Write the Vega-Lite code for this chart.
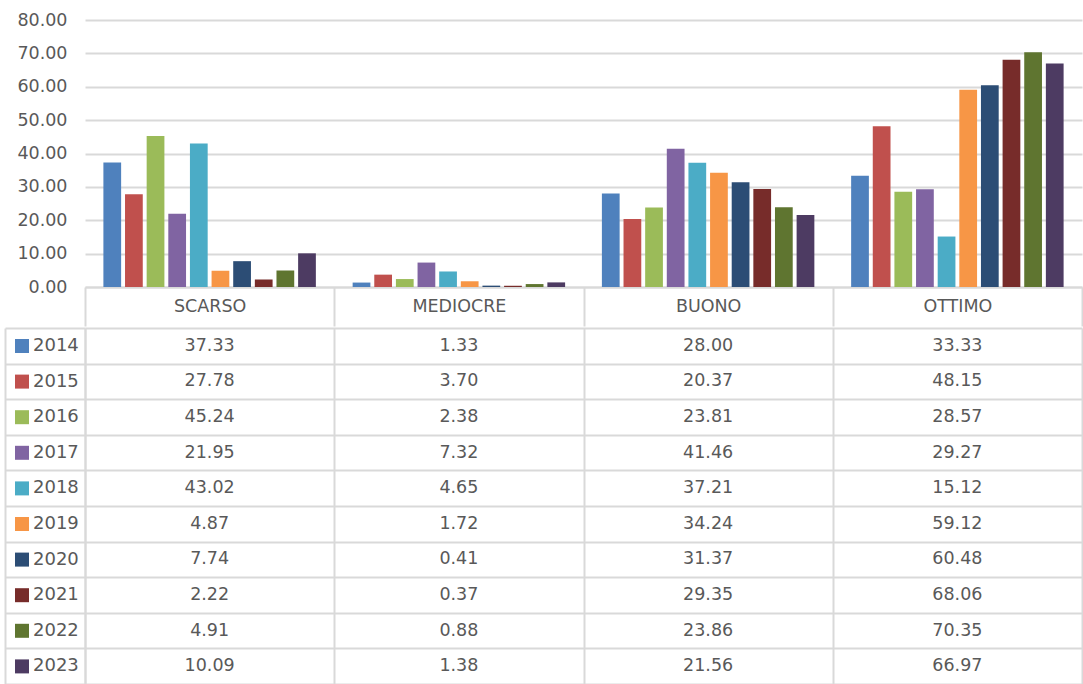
{
  "$schema": "https://vega.github.io/schema/vega-lite/v6.json",
  "padding": {"left": 4, "top": 11, "right": 0, "bottom": 0},
  "background": "white",
  "config": {
    "view": {"stroke": null},
    "font": "DejaVu Sans",
    "axis": {"labelFont": "DejaVu Sans", "labelFontSize": 17.5, "labelColor": "#595959", "gridColor": "#d9d9d9", "gridWidth": 2, "domainColor": "#d9d9d9", "domainWidth": 2, "tickColor": "#d9d9d9", "tickWidth": 2, "title": null},
    "concat": {"spacing": 0}
  },
  "data": {"values": [
    {"cat": "SCARSO", "year": "2014", "value": 37.33},
    {"cat": "SCARSO", "year": "2015", "value": 27.78},
    {"cat": "SCARSO", "year": "2016", "value": 45.24},
    {"cat": "SCARSO", "year": "2017", "value": 21.95},
    {"cat": "SCARSO", "year": "2018", "value": 43.02},
    {"cat": "SCARSO", "year": "2019", "value": 4.87},
    {"cat": "SCARSO", "year": "2020", "value": 7.74},
    {"cat": "SCARSO", "year": "2021", "value": 2.22},
    {"cat": "SCARSO", "year": "2022", "value": 4.91},
    {"cat": "SCARSO", "year": "2023", "value": 10.09},
    {"cat": "MEDIOCRE", "year": "2014", "value": 1.33},
    {"cat": "MEDIOCRE", "year": "2015", "value": 3.70},
    {"cat": "MEDIOCRE", "year": "2016", "value": 2.38},
    {"cat": "MEDIOCRE", "year": "2017", "value": 7.32},
    {"cat": "MEDIOCRE", "year": "2018", "value": 4.65},
    {"cat": "MEDIOCRE", "year": "2019", "value": 1.72},
    {"cat": "MEDIOCRE", "year": "2020", "value": 0.41},
    {"cat": "MEDIOCRE", "year": "2021", "value": 0.37},
    {"cat": "MEDIOCRE", "year": "2022", "value": 0.88},
    {"cat": "MEDIOCRE", "year": "2023", "value": 1.38},
    {"cat": "BUONO", "year": "2014", "value": 28.00},
    {"cat": "BUONO", "year": "2015", "value": 20.37},
    {"cat": "BUONO", "year": "2016", "value": 23.81},
    {"cat": "BUONO", "year": "2017", "value": 41.46},
    {"cat": "BUONO", "year": "2018", "value": 37.21},
    {"cat": "BUONO", "year": "2019", "value": 34.24},
    {"cat": "BUONO", "year": "2020", "value": 31.37},
    {"cat": "BUONO", "year": "2021", "value": 29.35},
    {"cat": "BUONO", "year": "2022", "value": 23.86},
    {"cat": "BUONO", "year": "2023", "value": 21.56},
    {"cat": "OTTIMO", "year": "2014", "value": 33.33},
    {"cat": "OTTIMO", "year": "2015", "value": 48.15},
    {"cat": "OTTIMO", "year": "2016", "value": 28.57},
    {"cat": "OTTIMO", "year": "2017", "value": 29.27},
    {"cat": "OTTIMO", "year": "2018", "value": 15.12},
    {"cat": "OTTIMO", "year": "2019", "value": 59.12},
    {"cat": "OTTIMO", "year": "2020", "value": 60.48},
    {"cat": "OTTIMO", "year": "2021", "value": 68.06},
    {"cat": "OTTIMO", "year": "2022", "value": 70.35},
    {"cat": "OTTIMO", "year": "2023", "value": 66.97}
  ]},
  "vconcat": [
    {
      "width": 997,
      "height": 267,
      "mark": {"type": "bar"},
      "encoding": {
        "x": {"field": "cat", "type": "nominal", "sort": ["SCARSO", "MEDIOCRE", "BUONO", "OTTIMO"],
              "scale": {"paddingInner": 0, "paddingOuter": 0},
              "axis": {"labelAngle": 0, "tickBand": "extent", "tickSize": 39, "labelPadding": -29, "grid": false, "domain": true}},
        "xOffset": {"field": "year", "type": "nominal", "scale": {"paddingInner": 0.18, "paddingOuter": 0.85}},
        "y": {"field": "value", "type": "quantitative", "scale": {"domain": [0, 80], "nice": false},
              "axis": {"format": ".2f", "values": [0, 10, 20, 30, 40, 50, 60, 70, 80], "ticks": false, "domain": false, "labelPadding": 18, "grid": true}},
        "color": {"field": "year", "type": "nominal",
                  "scale": {"range": ["#4F81BD", "#C0504D", "#9BBB59", "#8064A2", "#4BACC6", "#F79646", "#2C4D75", "#772C2A", "#5F7530", "#4D3B62"]},
                  "legend": null}
      }
    },
    {
      "width": 997,
      "height": 356,
      "layer": [
        {
          "mark": {"type": "text", "fontSize": 17.5, "color": "#595959", "font": "DejaVu Sans", "baseline": "middle"},
          "encoding": {
            "x": {"field": "cat", "type": "nominal", "sort": ["SCARSO", "MEDIOCRE", "BUONO", "OTTIMO"],
                  "scale": {"paddingInner": 0, "paddingOuter": 0},
                  "axis": {"labels": false, "ticks": false, "domain": false, "grid": true, "tickBand": "extent"}},
            "y": {"field": "year", "type": "nominal", "scale": {"paddingInner": 0, "paddingOuter": 0},
                  "axis": {"labels": false, "tickBand": "extent", "tickSize": 80, "grid": true, "domain": true}},
            "text": {"field": "value", "type": "quantitative", "format": ".2f"}
          }
        },
        {
          "mark": {"type": "point", "shape": "square", "filled": true, "opacity": 0},
          "encoding": {
            "y": {"field": "year", "type": "nominal",
                  "axis": {"orient": "left", "offset": 80, "labels": false, "ticks": false, "grid": false, "domain": true}},
            "color": {"field": "year", "type": "nominal",
                      "legend": {"orient": "none", "legendX": -72, "legendY": 9, "title": null, "symbolType": "square", "symbolSize": 196, "symbolOpacity": 1, "symbolStrokeWidth": 0, "labelFontSize": 18, "labelColor": "#595959", "labelFont": "DejaVu Sans", "labelOffset": 2, "rowPadding": 17.6, "padding": 0}}
          }
        }
      ],
      "resolve": {"axis": {"y": "independent"}}
    }
  ],
  "resolve": {"legend": {"color": "independent"}}
}
